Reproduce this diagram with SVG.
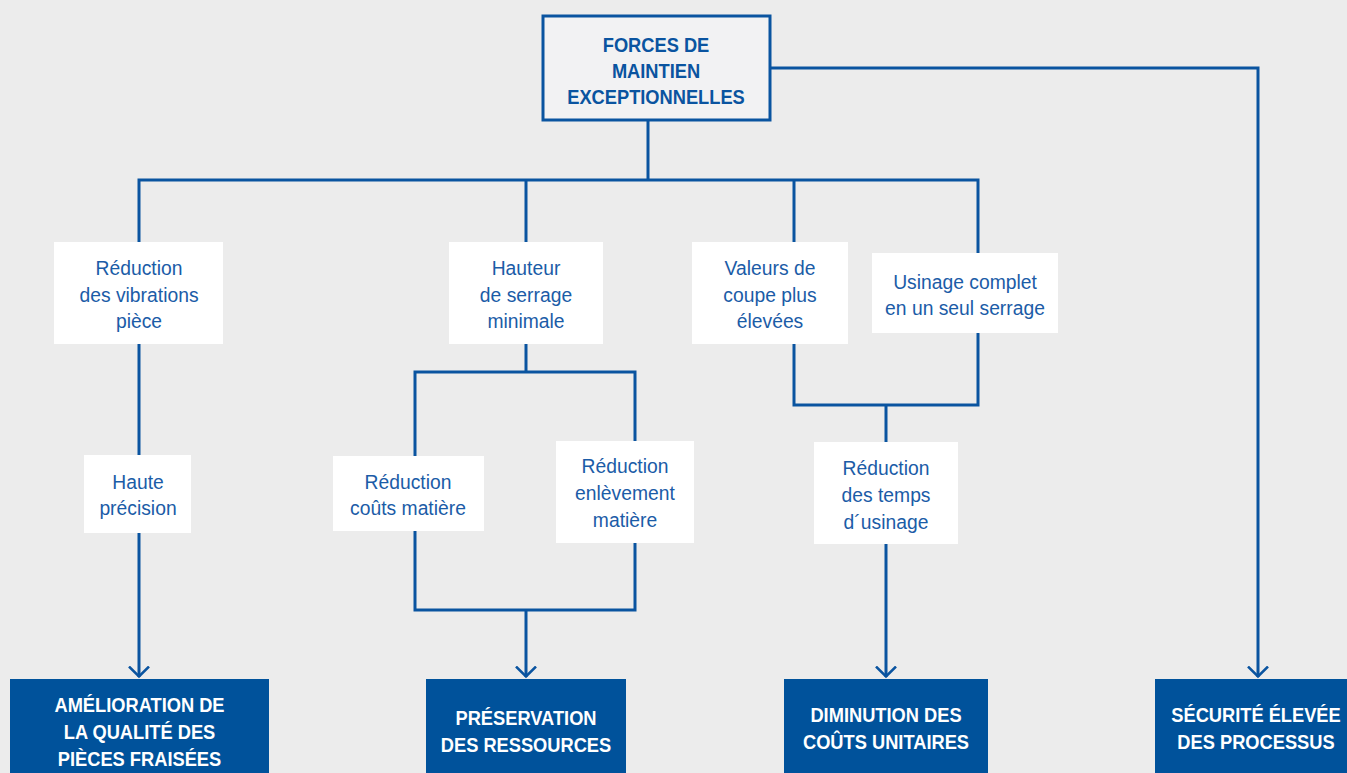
<svg xmlns="http://www.w3.org/2000/svg" width="1347" height="773" viewBox="0 0 1347 773">
<defs>
<style>
.bg{fill:#ececec}
.line{fill:none;stroke:#0a54a0;stroke-width:3}
.node{fill:#ffffff}
.top{fill:#f2f2f3;stroke:#0a54a0;stroke-width:3}
.res{fill:#00529b}
.t{font-family:"Liberation Sans",Arial,sans-serif;font-size:21px;fill:#1b5ca7;text-anchor:middle}
.b{font-family:"Liberation Sans",Arial,sans-serif;font-size:21px;font-weight:bold;text-anchor:middle}
.bb{fill:#0a54a0}
.bw{fill:#ffffff}
</style>
<marker id="arr" viewBox="0 0 13 22" refX="11.5" refY="11" markerWidth="13" markerHeight="22" markerUnits="userSpaceOnUse" orient="auto">
<path d="M1 1 L11 11 L1 21" fill="none" stroke="#0a54a0" stroke-width="2.5"/>
</marker>
</defs>
<rect class="bg" x="0" y="0" width="1347" height="773"/>
<g id="connectors">
<path class="line" d="M648 120 V180"/>
<path class="line" d="M139 242 V180 H978 V253"/>
<path class="line" d="M526 180 V242"/>
<path class="line" d="M794 180 V242"/>
<path class="line" d="M770 68 H1258 V677" marker-end="url(#arr)"/>
<path class="line" d="M139 344 V455"/>
<path class="line" d="M139 533 V677" marker-end="url(#arr)"/>
<path class="line" d="M526 344 V372"/>
<path class="line" d="M415 456 V372 H635 V441"/>
<path class="line" d="M415 531 V610 H635 V543"/>
<path class="line" d="M526 610 V677" marker-end="url(#arr)"/>
<path class="line" d="M794 344 V405 H978 V333"/>
<path class="line" d="M886 405 V442"/>
<path class="line" d="M886 544 V677" marker-end="url(#arr)"/>
</g>
<g id="forces">
<rect class="top" x="543" y="16" width="227" height="104"/>
<g transform="translate(656 0) scale(0.87 1)">
<text class="b bb" x="0" y="52">FORCES DE</text>
<text class="b bb" x="0" y="78">MAINTIEN</text>
<text class="b bb" x="0" y="104">EXCEPTIONNELLES</text>
</g>
</g>
<g id="vibrations">
<rect class="node" x="54" y="242" width="169" height="102"/>
<g transform="translate(139 0) scale(0.92 1)">
<text class="t" x="0" y="275">Réduction</text>
<text class="t" x="0" y="302">des vibrations</text>
<text class="t" x="0" y="328">pièce</text>
</g>
</g>
<g id="hauteur">
<rect class="node" x="449" y="242" width="154" height="102"/>
<g transform="translate(526 0) scale(0.92 1)">
<text class="t" x="0" y="275">Hauteur</text>
<text class="t" x="0" y="302">de serrage</text>
<text class="t" x="0" y="328">minimale</text>
</g>
</g>
<g id="valeurs">
<rect class="node" x="692" y="242" width="156" height="102"/>
<g transform="translate(770 0) scale(0.92 1)">
<text class="t" x="0" y="275">Valeurs de</text>
<text class="t" x="0" y="302">coupe plus</text>
<text class="t" x="0" y="328">élevées</text>
</g>
</g>
<g id="usinage">
<rect class="node" x="872" y="253" width="186" height="80"/>
<g transform="translate(965 0) scale(0.92 1)">
<text class="t" x="0" y="289">Usinage complet</text>
<text class="t" x="0" y="315">en un seul serrage</text>
</g>
</g>
<g id="precision">
<rect class="node" x="84" y="455" width="107" height="78"/>
<g transform="translate(138 0) scale(0.92 1)">
<text class="t" x="0" y="489">Haute</text>
<text class="t" x="0" y="515">précision</text>
</g>
</g>
<g id="couts">
<rect class="node" x="333" y="456" width="151" height="75"/>
<g transform="translate(408 0) scale(0.92 1)">
<text class="t" x="0" y="489">Réduction</text>
<text class="t" x="0" y="515">coûts matière</text>
</g>
</g>
<g id="enlevement">
<rect class="node" x="556" y="441" width="138" height="102"/>
<g transform="translate(625 0) scale(0.92 1)">
<text class="t" x="0" y="473">Réduction</text>
<text class="t" x="0" y="500">enlèvement</text>
<text class="t" x="0" y="527">matière</text>
</g>
</g>
<g id="temps">
<rect class="node" x="814" y="442" width="144" height="102"/>
<g transform="translate(886 0) scale(0.92 1)">
<text class="t" x="0" y="475">Réduction</text>
<text class="t" x="0" y="502">des temps</text>
<text class="t" x="0" y="529">d´usinage</text>
</g>
</g>
<g id="amelioration">
<rect class="res" x="10" y="679" width="259" height="94"/>
<g transform="translate(139.5 0) scale(0.87 1)">
<text class="b bw" x="0" y="712">AMÉLIORATION DE</text>
<text class="b bw" x="0" y="739">LA QUALITÉ DES</text>
<text class="b bw" x="0" y="766">PIÈCES FRAISÉES</text>
</g>
</g>
<g id="preservation">
<rect class="res" x="426" y="679" width="200" height="94"/>
<g transform="translate(526 0) scale(0.87 1)">
<text class="b bw" x="0" y="725">PRÉSERVATION</text>
<text class="b bw" x="0" y="752">DES RESSOURCES</text>
</g>
</g>
<g id="diminution">
<rect class="res" x="784" y="679" width="204" height="94"/>
<g transform="translate(886 0) scale(0.87 1)">
<text class="b bw" x="0" y="722">DIMINUTION DES</text>
<text class="b bw" x="0" y="749">COÛTS UNITAIRES</text>
</g>
</g>
<g id="securite">
<rect class="res" x="1155" y="679" width="192" height="94"/>
<g transform="translate(1256 0) scale(0.87 1)">
<text class="b bw" x="0" y="722">SÉCURITÉ ÉLEVÉE</text>
<text class="b bw" x="0" y="749">DES PROCESSUS</text>
</g>
</g>
</svg>
